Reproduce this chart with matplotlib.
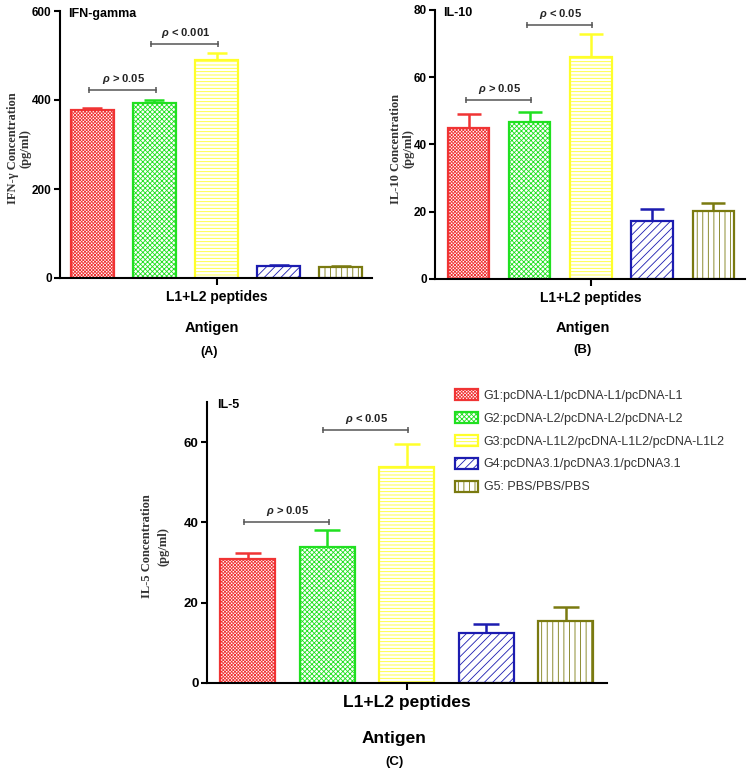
import matplotlib.pyplot as plt
import numpy as np

plt.rcParams['font.family'] = ['Liberation Sans', 'DejaVu Sans']
plt.rcParams['hatch.linewidth'] = 0.6
plt.rcParams['mathtext.fontset'] = 'custom'
plt.rcParams['mathtext.it'] = 'Liberation Sans:italic:bold'
plt.rcParams['mathtext.rm'] = 'Liberation Sans:bold'

# data
groups = ['G1:pcDNA-L1/pcDNA-L1/pcDNA-L1',
          'G2:pcDNA-L2/pcDNA-L2/pcDNA-L2',
          'G3:pcDNA-L1L2/pcDNA-L1L2/pcDNA-L1L2',
          'G4:pcDNA3.1/pcDNA3.1/pcDNA3.1',
          'G5: PBS/PBS/PBS']
ifn_mean = [377, 393, 490, 27, 24]
ifn_err = [4, 8, 15, 1.5, 2]
il10_mean = [45.0, 46.8, 65.9, 17.3, 20.3]
il10_err = [4.0, 3.0, 7.1, 3.4, 2.2]
il5_mean = [30.8, 33.8, 53.9, 12.3, 15.4]
il5_err = [1.5, 4.3, 5.6, 2.3, 3.4]

# significance brackets: (first group, second group, level, text)
ifn_sig = [(0, 1, 422, '$\\rho$ > 0.05'), (1, 2, 526, '$\\rho$ < 0.001')]
il10_sig = [(0, 1, 53.2, '$\\rho$ > 0.05'), (1, 2, 75.4, '$\\rho$ < 0.05')]
il5_sig = [(0, 1, 40.1, '$\\rho$ > 0.05'), (1, 2, 62.9, '$\\rho$ < 0.05')]

edges = ['#f03434', '#20e020', '#ffff2a', '#1c1cb0', '#7a7a10']
hatches = ['xxxxxxxxxx', 'xxxxxxx', '-----', '////', '|||']

W, H = 747, 772
fig = plt.figure(figsize=(W / 100, H / 100), dpi=100)


def px_axes(l, t, r, b):
    return fig.add_axes([l / W, 1 - b / H, (r - l) / W, (b - t) / H])


def panel(ax, mean, err, sig, ymax, yticks, title, ylabel, xlim, width, cap,
          tsize, lsize, ylab_x, ylab_ls):
    x = np.arange(len(mean))
    for i in range(len(mean)):
        ax.errorbar(x[i], mean[i], yerr=[[0], [err[i]]], fmt='none',
                    ecolor=edges[i], elinewidth=1.8, capsize=cap, capthick=1.8, zorder=1)
    bars = ax.bar(x, mean, width=width, color='white', linewidth=1.6, zorder=2)
    for b, e, h in zip(bars, edges, hatches):
        b.set_edgecolor(e)
        b.set_hatch(h)

    for i, j, y, txt in sig:
        ax.plot([x[i] - 0.05, x[j] + 0.02], [y, y], color='#555555', lw=1.1,
                marker='|', markersize=5, markeredgewidth=1.1)
        ax.annotate(txt, xy=((x[i] + x[j]) / 2, y), xytext=(0, 3), textcoords='offset points',
                    ha='center', va='bottom', fontsize=8, fontweight='bold', color='#222222')

    ax.set_xlim(xlim)
    ax.set_ylim(0, ymax)
    ax.set_yticks(yticks)
    ax.set_yticklabels([str(t) for t in yticks], fontsize=tsize, fontweight='bold')
    ax.set_xticks([2])
    ax.set_xticklabels(['L1+L2 peptides'], fontsize=lsize, fontweight='bold')
    ax.tick_params(axis='y', direction='out', length=4, width=1.5, pad=2)
    ax.tick_params(axis='x', direction='out', length=5, width=1.5, pad=4)
    ax.spines['top'].set_visible(False)
    ax.spines['right'].set_visible(False)
    ax.spines['left'].set_linewidth(1.5)
    ax.spines['bottom'].set_linewidth(1.5)

    ax.text(ylab_x, 0.485, ylabel, transform=ax.transAxes, rotation=90, ha='center', va='center',
            multialignment='center', family=['Liberation Serif', 'DejaVu Serif'], fontweight='bold',
            fontsize=9, color='#333333', linespacing=ylab_ls)
    ax.text(0.025, 0.99, title, transform=ax.transAxes, ha='left', va='center',
            fontsize=9, fontweight='bold')
    return bars


ax_a = px_axes(60, 11, 372, 278)
panel(ax_a, ifn_mean, ifn_err, ifn_sig, 600, [0, 200, 400, 600], 'IFN-gamma',
      'IFN-\u03b3 Concentration\n(pg/ml)', (-0.52, 4.5), 0.69, 7.5, 8.5, 10, -0.131, 1.1)

ax_b = px_axes(435, 10, 745, 279)
panel(ax_b, il10_mean, il10_err, il10_sig, 80, [0, 20, 40, 60, 80], 'IL-10',
      'IL-10 Concentration\n(pg/ml)', (-0.55, 4.52), 0.675, 8.5, 8.5, 10, -0.105, 1.1)

ax_c = px_axes(207, 402, 607, 682.7)
bars_c = panel(ax_c, il5_mean, il5_err, il5_sig, 70, [0, 20, 40, 60], 'IL-5',
               'IL-5 Concentration\n(pg/ml)', (-0.51, 4.52), 0.69, 9.5, 9.5, 12.5, -0.13, 1.5)

fig.text(212 / W, 1 - 328 / H, 'Antigen', ha='center', va='center', fontsize=10.5, fontweight='bold')
fig.text(209 / W, 1 - 352 / H, '(A)', ha='center', va='center', fontsize=9, fontweight='bold')
fig.text(583 / W, 1 - 328 / H, 'Antigen', ha='center', va='center', fontsize=10.5, fontweight='bold')
fig.text(583 / W, 1 - 350 / H, '(B)', ha='center', va='center', fontsize=9.5, fontweight='bold')
fig.text(394 / W, 1 - 738 / H, 'Antigen', ha='center', va='center', fontsize=12.5, fontweight='bold')
fig.text(394 / W, 1 - 762 / H, '(C)', ha='center', va='center', fontsize=9.5, fontweight='bold')

leg = ax_c.legend(bars_c, groups, loc='upper left', bbox_to_anchor=(455 / W, 1 - 389 / H),
                  bbox_transform=fig.transFigure, frameon=False,
                  prop={'family': 'Liberation Sans', 'size': 9}, handlelength=1.85,
                  handleheight=1.0, handletextpad=0.45, labelspacing=0.8,
                  borderaxespad=0, borderpad=0)
for t in leg.get_texts():
    t.set_color('#333333')

fig.savefig('out.png', dpi=100)
